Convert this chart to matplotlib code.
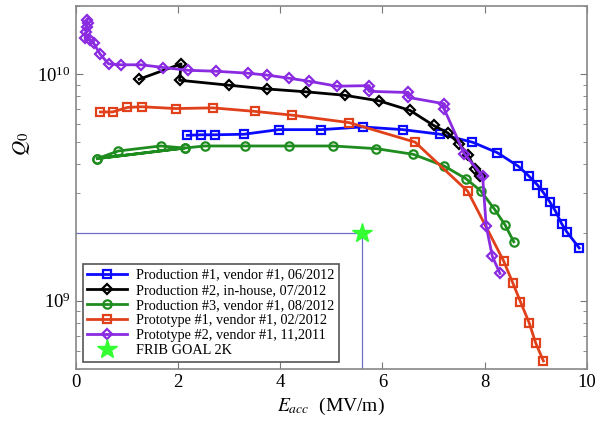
import matplotlib
matplotlib.use("Agg")
import matplotlib.pyplot as plt

plt.rcParams['font.family'] = 'Liberation Serif'
plt.rcParams['mathtext.fontset'] = 'stix'

# Production #1, vendor #1, 06/2012
p1_e = [2.18, 2.45, 2.72, 3.29, 3.97, 4.80, 5.61, 6.40, 7.13, 7.76, 8.25,
        8.66, 8.86, 9.03, 9.15, 9.27, 9.38, 9.51, 9.61, 9.85]
p1_q = [5.37e9, 5.40e9, 5.40e9, 5.43e9, 5.69e9, 5.69e9, 5.85e9, 5.69e9, 5.43e9, 5.01e9, 4.50e9,
        3.92e9, 3.56e9, 3.25e9, 3.00e9, 2.74e9, 2.50e9, 2.18e9, 2.01e9, 1.71e9]

# Production #2, in-house, 07/2012
p2_e = [1.24, 2.06, 2.03, 2.99, 3.75, 4.50, 5.26, 5.94, 6.54, 7.00, 7.28,
        7.50, 7.68, 7.81, 7.90]
p2_q = [9.5e9, 1.11e10, 9.4e9, 8.94e9, 8.6e9, 8.36e9, 8.07e9, 7.62e9, 6.92e9, 5.94e9, 5.5e9,
        4.93e9, 4.38e9, 3.83e9, 3.57e9]

# Production #3, vendor #1, 08/2012
p3_e = [0.42, 0.83, 1.66, 2.13, 0.42, 2.13, 2.52, 3.31, 4.17, 5.04, 5.88, 6.60,
        7.21, 7.63, 7.92, 8.19, 8.40, 8.57]
p3_q = [4.24e9, 4.58e9, 4.82e9, 4.72e9, 4.24e9, 4.72e9, 4.82e9, 4.82e9, 4.82e9, 4.82e9, 4.69e9, 4.43e9,
        3.93e9, 3.46e9, 3.06e9, 2.54e9, 2.16e9, 1.82e9]

# Prototype #1, vendor #1, 02/2012
t1_e = [0.48, 0.72, 1.01, 1.29, 1.96, 2.68, 3.50, 4.24, 5.35, 6.64, 7.67,
        8.37, 8.55, 8.70, 8.87, 9.00, 9.15]
t1_q = [6.81e9, 6.81e9, 7.13e9, 7.18e9, 7.05e9, 7.10e9, 6.85e9, 6.59e9, 6.11e9, 5.01e9, 3.04e9,
        1.50e9, 1.20e9, 9.9e8, 8.0e8, 6.5e8, 5.42e8]

# Prototype #2, vendor #1, 11,2011
t2_e = [0.22, 0.23, 0.21, 0.20, 0.18, 0.28, 0.35, 0.47, 0.64, 0.89, 1.28, 1.71,
        2.20, 2.75, 3.36, 3.75, 4.17, 4.57, 5.11, 5.74, 5.74, 6.50, 6.50, 7.21, 7.21,
        7.60, 7.96, 8.03, 8.15, 8.30]
t2_q = [1.73e10, 1.68e10, 1.62e10, 1.54e10, 1.44e10, 1.41e10, 1.37e10, 1.23e10, 1.11e10, 1.10e10, 1.10e10, 1.07e10,
        1.04e10, 1.03e10, 1.01e10, 9.9e9, 9.6e9, 9.3e9, 8.85e9, 8.9e9, 8.4e9, 8.3e9, 7.9e9, 7.4e9, 7.0e9,
        4.46e9, 3.55e9, 2.14e9, 1.57e9, 1.32e9]

goal_e = 5.6
goal_q = 2e9

fig = plt.figure(figsize=(5.97, 4.26), dpi=100)
ax = fig.add_axes([0.127, 0.134, 0.856, 0.852])

ax.plot([0, goal_e], [goal_q, goal_q], color='#6f6fc8', lw=0.9)
ax.plot([goal_e, goal_e], [1e8, goal_q], color='#6f6fc8', lw=0.9)

kw = dict(lw=2, ms=6, mew=1.6, mfc='none')
dkw = dict(lw=2, ms=5.5, mew=1.6, mfc='none')
ax.plot(p1_e, p1_q, '-s', color='#0a0aff', label='Production #1, vendor #1, 06/2012', **kw)
ax.plot(p2_e, p2_q, '-D', color='black', label='Production #2, in-house, 07/2012', **dkw)
ax.plot(p3_e, p3_q, '-o', color='#1e8c1e', label='Production #3, vendor #1, 08/2012', **kw)
ax.plot(t1_e, t1_q, '-s', color='#e0401a', label='Prototype #1, vendor #1, 02/2012', **kw)
ax.plot(t2_e, t2_q, '-D', color='#8a2be2', label='Prototype #2, vendor #1, 11,2011', **dkw)
ax.plot([goal_e], [goal_q], '*', color='#33ff33', ms=15, ls='none', label='FRIB GOAL 2K')

ax.set_yscale('log')
ax.set_xlim(0, 10)
ax.set_ylim(5e8, 2e10)
ax.set_xticks([0, 2, 4, 6, 8, 10])
ax.tick_params(which='both', direction='in', top=True, right=True, labelsize=13.5,
               color='#777777')
ax.tick_params(which='major', length=5)
ax.tick_params(which='minor', length=3)
for s in ax.spines.values():
    s.set_color('#888888')
    s.set_linewidth(1.2)

ax.set_xlabel(r'$E_{acc}$  (MV/m)', fontsize=14)
ax.set_ylabel(r'$Q_0$', fontsize=15)
ax.yaxis.set_label_coords(-0.085, 0.62)

leg = ax.legend(loc='lower left', fontsize=10.3, handlelength=2.8, borderpad=0.3,
                labelspacing=0.15, handletextpad=0.6, fancybox=False, framealpha=1)
leg.get_frame().set_edgecolor('#555555')
leg.get_frame().set_linewidth(1.2)

fig.savefig('out.png', dpi=100)
